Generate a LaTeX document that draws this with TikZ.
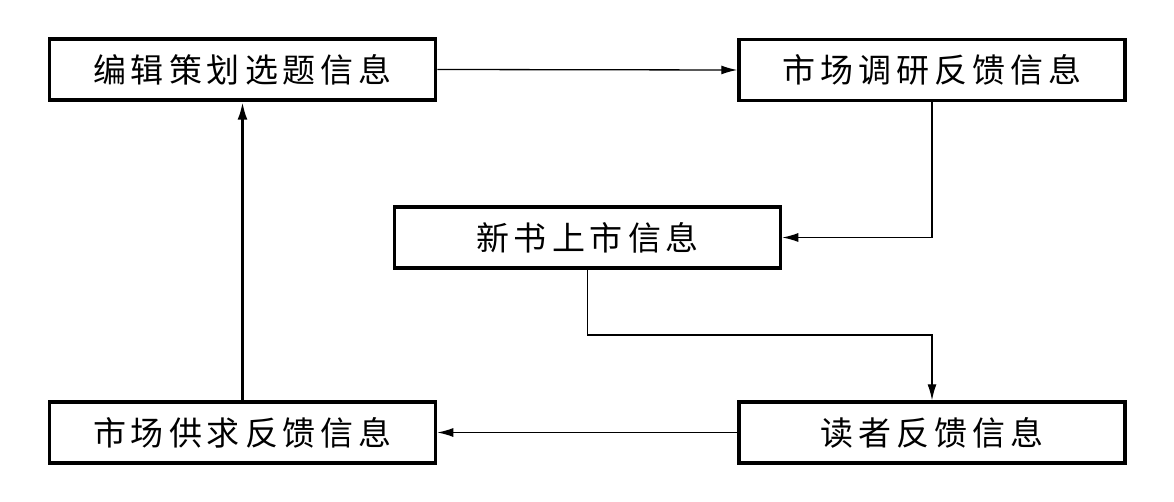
\documentclass[tikz,border=0pt]{standalone}
\usepackage{fontspec}
\newfontfamily\cjk{Noto Sans CJK SC}
\usetikzlibrary{arrows.meta}
\newcommand{\gp}{\kern5pt}
\begin{document}
\begin{tikzpicture}[x=1pt,y=-1pt,
  box/.style={draw, line width=3.5pt, rectangle, inner sep=0pt,
    minimum width=386pt, minimum height=61pt,
    font=\cjk\fontsize{33}{33}\selectfont},
  conn/.style={line width=1.3pt, -{Latex[length=16pt,width=9pt]}}]
\useasboundingbox (0,0) rectangle (1174,502);
\node[box] (b1) at (242.5,69.5) {编\gp 辑\gp 策\gp 划\gp 选\gp 题\gp 信\gp 息};
\node[box] (b2) at (932,70) {市\gp 场\gp 调\gp 研\gp 反\gp 馈\gp 信\gp 息};
\node[box] (b3) at (587.5,237.5) {新\gp 书\gp 上\gp 市\gp 信\gp 息};
\node[box] (b4) at (242.5,432.5) {市\gp 场\gp 供\gp 求\gp 反\gp 馈\gp 信\gp 息};
\node[box] (b5) at (932,432.5) {读\gp 者\gp 反\gp 馈\gp 信\gp 息};
\coordinate (k) at (587.5,335);
\draw[conn] (b1.east) -- (b2.west);
\draw[conn] (b2.south) |- (b3.east);
\draw[conn] (b3.south) -- (k) -| (b5.north);
\draw[conn] (b5.west) -- (b4.east);
\draw[conn, line width=2.8pt, -{Latex[length=18pt,width=10pt]}] (b4.north) -- (b1.south);
\end{tikzpicture}
\end{document}
